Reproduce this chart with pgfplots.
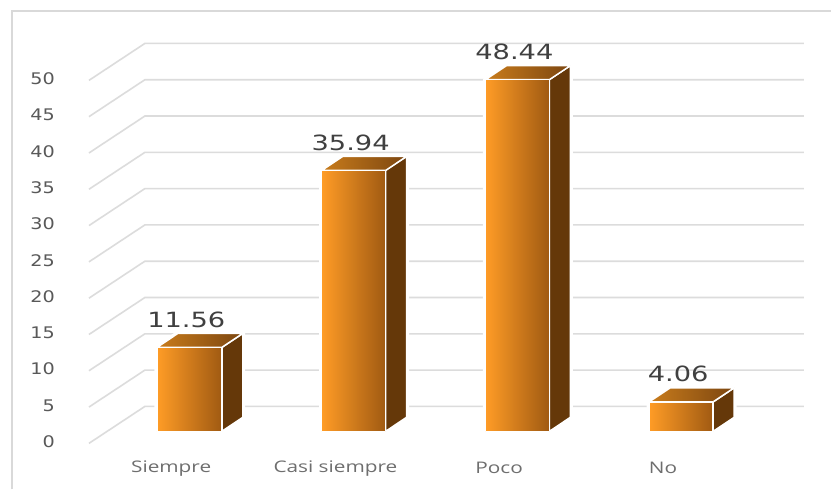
\documentclass[border=0pt]{standalone}
\usepackage{fontspec}
\setmainfont{DejaVu Sans}
\newfontfamily\catfont{Open Sans}
\usepackage{pgfplots}
\pgfplotsset{compat=1.18}
\definecolor{gridgray}{HTML}{DCDCDC}
\definecolor{framegray}{HTML}{D9D9D9}
\definecolor{ticktext}{HTML}{595959}
\definecolor{cattext}{HTML}{6E6E6E}
\definecolor{valtext}{HTML}{404040}
\definecolor{frontL}{HTML}{FF9C26}
\definecolor{frontR}{HTML}{A05A12}
\definecolor{topL}{HTML}{C97C1C}
\definecolor{topR}{HTML}{7C4610}
\definecolor{sideface}{HTML}{653809}
\pgfplotsset{
  halo/.style={draw=white,line width=5pt,line join=round,forget plot},
  front/.style={left color=frontL,right color=frontR,draw=white,line width=1.5pt,line join=round},
  topface/.style={left color=topL,right color=topR,draw=white,line width=1.5pt,line join=round},
  sideface/.style={fill=sideface,draw=white,line width=1.5pt,line join=round},
  backwall/.style={gridgray,line width=1.6pt,line join=miter},
}
\begin{document}
\begin{tikzpicture}
\begin{axis}[
  scale only axis, width=832pt, height=490pt,
  xmin=0, xmax=832,
  % vertical scale: 7.27 px per unit, base of the bars 58 px above the lower edge
  ymin=-7.978, ymax=59.422,
  clip=false,
  axis background/.style={fill=white},
  axis line style={draw=none},
  axis x line*=bottom, axis y line*=left,
  major tick length=0pt,
  xtick={189.5,354,518,682},
  xticklabels={Siempre,Casi siempre,Poco,No},
  x tick label style={font=\catfont\fontsize{16}{17}\selectfont,text=cattext,anchor=center,xscale=1.3,xshift=-14pt,yshift=21pt},
  ytick={0,5,...,50},
  y tick label style={font=\fontsize{16}{17}\selectfont,text=ticktext,anchor=east,xshift=59pt,yshift=-10.4pt,xscale=1.2},
  /pgf/number format/assume math mode=true,
]
% border along the top and the left side
\addplot[framegray,line width=2.2pt,forget plot] coordinates {(12,-7.978) (12,57.91) (832,57.91)};

% gridlines: side wall then back wall, one per tick
\addplot[backwall] coordinates {(89,-1.65) (145,3.44) (805,3.44)};
\addplot[backwall] coordinates {(89,3.35) (145,8.44) (805,8.44)};
\addplot[backwall] coordinates {(89,8.35) (145,13.44) (805,13.44)};
\addplot[backwall] coordinates {(89,13.35) (145,18.44) (805,18.44)};
\addplot[backwall] coordinates {(89,18.35) (145,23.44) (805,23.44)};
\addplot[backwall] coordinates {(89,23.35) (145,28.44) (805,28.44)};
\addplot[backwall] coordinates {(89,28.35) (145,33.44) (805,33.44)};
\addplot[backwall] coordinates {(89,33.35) (145,38.44) (805,38.44)};
\addplot[backwall] coordinates {(89,38.35) (145,43.44) (805,43.44)};
\addplot[backwall] coordinates {(89,43.35) (145,48.44) (805,48.44)};
\addplot[backwall] coordinates {(89,48.35) (145,53.44) (805,53.44)};

% Siempre = 11.56
\addplot[halo] coordinates {(157,0) (222,0) (243,1.93) (243,13.49) (178,13.49) (157,11.56)} --cycle;
\addplot[sideface] coordinates {(222,0) (243,1.93) (243,13.49) (222,11.56)} --cycle;
\addplot[topface] coordinates {(157,11.56) (222,11.56) (243,13.49) (178,13.49)} --cycle;
\addplot[front] coordinates {(157,0) (222,0) (222,11.56) (157,11.56)} --cycle;
% Casi siempre = 35.94
\addplot[halo] coordinates {(322,0) (386,0) (407,1.93) (407,37.87) (343,37.87) (322,35.94)} --cycle;
\addplot[sideface] coordinates {(386,0) (407,1.93) (407,37.87) (386,35.94)} --cycle;
\addplot[topface] coordinates {(322,35.94) (386,35.94) (407,37.87) (343,37.87)} --cycle;
\addplot[front] coordinates {(322,0) (386,0) (386,35.94) (322,35.94)} --cycle;
% Poco = 48.44
\addplot[halo] coordinates {(486,0) (550,0) (571,1.93) (571,50.37) (507,50.37) (486,48.44)} --cycle;
\addplot[sideface] coordinates {(550,0) (571,1.93) (571,50.37) (550,48.44)} --cycle;
\addplot[topface] coordinates {(486,48.44) (550,48.44) (571,50.37) (507,50.37)} --cycle;
\addplot[front] coordinates {(486,0) (550,0) (550,48.44) (486,48.44)} --cycle;
% No = 4.06
\addplot[halo] coordinates {(650,0) (714,0) (735,1.93) (735,5.99) (671,5.99) (650,4.06)} --cycle;
\addplot[sideface] coordinates {(714,0) (735,1.93) (735,5.99) (714,4.06)} --cycle;
\addplot[topface] coordinates {(650,4.06) (714,4.06) (735,5.99) (671,5.99)} --cycle;
\addplot[front] coordinates {(650,0) (714,0) (714,4.06) (650,4.06)} --cycle;

% value labels above each bar
\addplot[draw=none,mark=none,
  nodes near coords,point meta=y,
  every node near coord/.style={anchor=center,yshift=28pt,xshift=-3pt,xscale=1.3,
    font=\fontsize{21}{22}\selectfont,text=valtext,
    /pgf/number format/.cd,fixed,fixed zerofill,precision=2,assume math mode=true},
] coordinates {(189.5,11.56) (354,35.94) (518,48.44) (682,4.06)};
\end{axis}
\end{tikzpicture}
\end{document}
